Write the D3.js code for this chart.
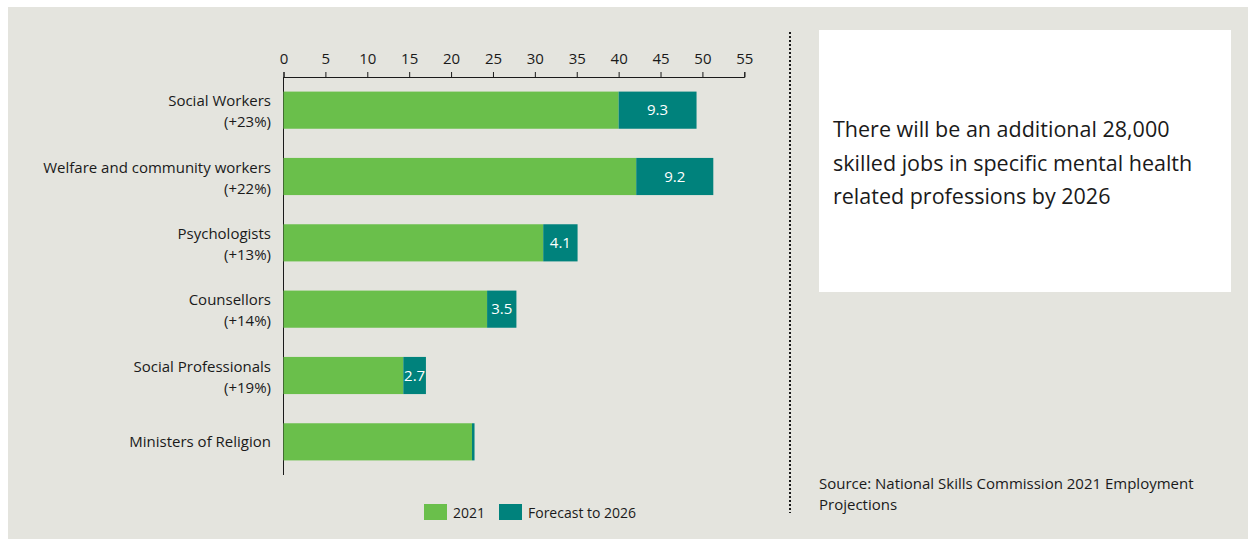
<!DOCTYPE html>
<html>
<head>
<meta charset="utf-8">
<script src="https://cdn.jsdelivr.net/npm/d3@7/dist/d3.min.js"></script>
<style>
  body { margin: 0; background: #fff; }
  svg text { font-family: "Open Sans", Lato, sans-serif; fill: #1a1a1a; }
</style>
</head>
<body>
<div id="chart"></div>
<script>
// data
var categories = ["Social Workers", "Welfare and community workers", "Psychologists ", "Counsellors ", "Social Professionals ", "Ministers of Religion"];
var growth = ["(+23%)", "(+22%)", "(+13%)", "(+14%)", "(+19%)", ""];
var jobs2021 = [40.0, 42.1, 31.0, 24.3, 14.3, 22.5];
var forecast2026 = [9.3, 9.2, 4.1, 3.5, 2.7, 0.3];
var showLabel = [true, true, true, true, true, false];
var xTicks = [0, 5, 10, 15, 20, 25, 30, 35, 40, 45, 50, 55];
var seriesNames = ["2021", "Forecast to 2026"];
var noteLines = ["There will be an additional 28,000", "skilled jobs in specific mental health", "related professions by 2026"];
var sourceLines = ["Source: National Skills Commission 2021 Employment", "Projections"];

var W = 1248, H = 539;
var green = "#6abf4b", teal = "#00827c";

var svg = d3.select("#chart").append("svg")
    .attr("width", W)
    .attr("height", H);

// panel background
svg.append("rect")
    .attr("x", 8).attr("y", 7)
    .attr("width", W - 8).attr("height", H - 7)
    .attr("fill", "#e4e4de");

var x = d3.scaleLinear().domain([0, 55]).range([283.5, 744.3]);
var y = d3.scaleBand().domain(categories).range([77, 475]).paddingInner(0.44).paddingOuter(0.22);

// top axis
var axis = svg.append("g")
    .attr("transform", "translate(0,77)")
    .call(d3.axisTop(x).tickValues(xTicks).tickSize(5).tickPadding(8));
axis.selectAll("path, line").attr("stroke", "#1a1a1a");
axis.selectAll("text")
    .style("font-size", "15px")
    .style("font-family", "'Open Sans', sans-serif")
    .attr("fill", "#1a1a1a");

// left vertical baseline
svg.append("line")
    .attr("x1", x(0)).attr("x2", x(0))
    .attr("y1", 77).attr("y2", 475)
    .attr("stroke", "#1a1a1a");

var rows = svg.selectAll("g.row")
    .data(categories)
    .enter().append("g")
    .attr("class", "row");

rows.append("rect")
    .attr("x", x(0))
    .attr("y", function (d) { return y(d); })
    .attr("width", function (d, i) { return x(jobs2021[i]) - x(0); })
    .attr("height", y.bandwidth())
    .attr("fill", green);

rows.append("rect")
    .attr("x", function (d, i) { return x(jobs2021[i]); })
    .attr("y", function (d) { return y(d); })
    .attr("width", function (d, i) { return x(jobs2021[i] + forecast2026[i]) - x(jobs2021[i]); })
    .attr("height", y.bandwidth())
    .attr("fill", teal);

rows.filter(function (d, i) { return showLabel[i]; })
    .append("text")
    .attr("x", function (d, i) { return (x(jobs2021[i]) + x(jobs2021[i] + forecast2026[i])) / 2; })
    .attr("y", function (d) { return y(d) + y.bandwidth() / 2 + 5; })
    .attr("text-anchor", "middle")
    .style("font-size", "15px")
    .style("fill", "#fff")
    .text(function (d, i) { return forecast2026[i]; });

// category labels
rows.each(function (d, i) {
    var g = d3.select(this);
    var cy = y(d) + y.bandwidth() / 2;
    if (growth[i]) {
        g.append("text").attr("x", 271).attr("y", cy - 4).attr("text-anchor", "end")
            .style("font-size", "15px").text(d);
        g.append("text").attr("x", 271).attr("y", cy + 17).attr("text-anchor", "end")
            .style("font-size", "15px").text(growth[i]);
    } else {
        g.append("text").attr("x", 271).attr("y", cy + 5).attr("text-anchor", "end")
            .style("font-size", "15px").text(d);
    }
});

// legend
var legend = svg.append("g").attr("transform", "translate(424,504)");
var legendX = [0, 75];
seriesNames.forEach(function (s, i) {
    legend.append("rect")
        .attr("x", legendX[i]).attr("y", 0)
        .attr("width", 23).attr("height", 16)
        .attr("fill", i === 0 ? green : teal);
    legend.append("text")
        .attr("x", legendX[i] + 29).attr("y", 14)
        .style("font-size", "14px")
        .text(s);
});

// dotted divider
svg.append("line")
    .attr("x1", 790).attr("x2", 790)
    .attr("y1", 32).attr("y2", 513)
    .attr("stroke", "#1a1a1a")
    .attr("stroke-width", 2)
    .attr("stroke-dasharray", "2,2");

// note box
svg.append("rect")
    .attr("x", 819).attr("y", 30)
    .attr("width", 412).attr("height", 262)
    .attr("fill", "#fff");

svg.append("g").selectAll("text")
    .data(noteLines)
    .enter().append("text")
    .attr("x", 833)
    .attr("y", function (d, i) { return 137 + i * 33.5; })
    .style("font-size", "21.5px")
    .text(function (d) { return d; });

svg.append("g").selectAll("text")
    .data(sourceLines)
    .enter().append("text")
    .attr("x", 819)
    .attr("y", function (d, i) { return 489 + i * 21; })
    .style("font-size", "15px")
    .text(function (d) { return d; });
</script>
</body>
</html>
